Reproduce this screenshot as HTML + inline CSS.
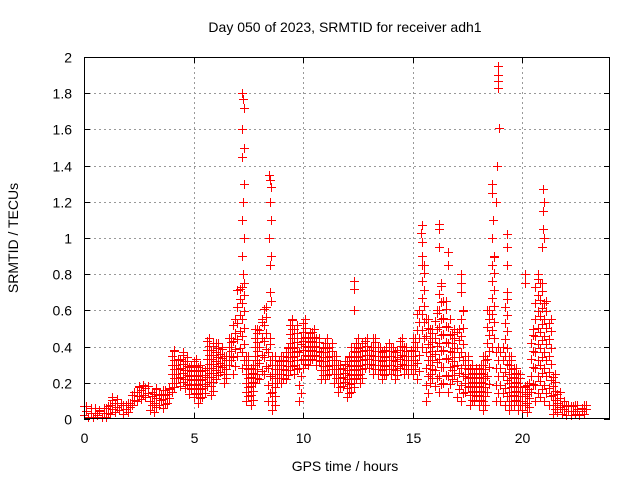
<!DOCTYPE html>
<html><head><meta charset="utf-8"><style>
body{margin:0;background:#fff}
svg{display:block;font-family:"Liberation Sans",sans-serif}
</style></head><body>
<svg id="chart" width="640" height="480" viewBox="0 0 640 480" xmlns="http://www.w3.org/2000/svg">
<text x="345" y="32" font-size="14" text-anchor="middle">Day 050 of 2023, SRMTID for receiver adh1</text>
<text transform="translate(18,238) rotate(-90)" font-size="14" text-anchor="middle">SRMTID / TECUs</text>
<text x="345" y="471" font-size="14" text-anchor="middle">GPS time / hours</text>
<g id="grid"></g><g id="marks"></g>
<rect x="84.5" y="57.5" width="525" height="361" fill="none" stroke="#000" stroke-width="1"/>
<g id="ticks"></g>
</svg>
<script>
const xTicks=[0,5,10,15,20];
const yTicks=[0,0.2,0.4,0.6,0.8,1,1.2,1.4,1.6,1.8,2];
const binStart=0, binWidth=0.2;
const lo=[0.02,0.01,0.01,0.02,0.01, 0.01,0.03,0.04,0.05,0.03, 0.04,0.08,0.10,0.11,0.12, 0.05,0.04,0.08,0.06,0.09,
0.15,0.20,0.18,0.17,0.14, 0.12,0.09,0.12,0.18,0.13, 0.22,0.26,0.20,0.30,0.25, 0.35,0.28,0.10,0.08,0.20,
0.22,0.25,0.10,0.05,0.20, 0.20,0.22,0.27,0.25,0.10, 0.28,0.30,0.33,0.30,0.22, 0.22,0.25,0.20,0.15,0.18,
0.12,0.15,0.22,0.20,0.28, 0.28,0.25,0.25,0.22,0.25, 0.25,0.22,0.28,0.25,0.25, 0.25,0.22,0.40,0.10,0.20,
0.18,0.15,0.20,0.15,0.22, 0.12,0.10,0.15,0.08,0.10, 0.08,0.05,0.15,0.40,0.10, 0.10,0.08,0.05,0.08,0.05,
0.05,0.04,0.15,0.10,0.12, 0.10,0.08,0.03,0.04,0.03, 0.02,0.02,0.03,0.02,0.03];
const hi=[0.07,0.06,0.06,0.05,0.06, 0.07,0.12,0.11,0.09,0.08, 0.09,0.15,0.18,0.19,0.18, 0.15,0.17,0.14,0.16,0.17,
0.38,0.33,0.37,0.34,0.30, 0.33,0.30,0.27,0.45,0.42, 0.42,0.40,0.35,0.45,0.55, 0.72,0.75,0.35,0.30,0.50,
0.55,0.62,0.45,0.35,0.32, 0.35,0.40,0.55,0.52,0.45, 0.55,0.48,0.50,0.45,0.40, 0.45,0.42,0.35,0.30,0.32,
0.35,0.40,0.45,0.42,0.45, 0.40,0.45,0.40,0.38,0.42, 0.40,0.38,0.45,0.40,0.38, 0.45,0.60,0.85,0.55,0.50,
0.60,0.75,0.65,0.55,0.50, 0.50,0.60,0.35,0.30,0.28, 0.30,0.35,0.60,0.90,0.40, 0.40,0.70,0.35,0.28,0.25,
0.18,0.20,0.50,0.80,0.75, 0.65,0.55,0.25,0.15,0.10, 0.08,0.07,0.08,0.06,0.08];
const spikeT=[7.2,7.25,7.3,7.22,7.28,7.2,7.3,7.25,7.2,7.3,7.22,7.27,
8.45,8.5,8.55,8.48,8.52,8.45,8.55,8.5,8.47,8.53,
12.3,12.3,12.3, 15.4,15.38,15.42,15.4, 16.2,16.22,16.18, 16.6,16.62, 17.2,17.22,17.2,
18.6,18.62,18.65,18.6, 18.9,18.9,18.88,18.9,18.92,18.85,18.82, 19.3,19.28,19.3, 20.1,20.12,
20.95,20.97,20.93,20.95,21.0,20.92];
const spikeV=[1.8,1.77,1.72,1.6,1.5,1.45,1.3,1.2,1.1,1.0,0.9,0.8,
1.35,1.32,1.28,1.2,1.1,1.0,0.9,0.85,0.7,0.65,
0.76,0.72,0.6, 1.07,1.03,0.98,0.9, 1.08,1.05,0.95, 0.92,0.85, 0.8,0.75,0.7,
1.3,1.25,1.1,1.0, 1.95,1.9,1.87,1.83,1.61,1.4,1.2, 1.02,0.95,0.85, 0.8,0.75,
1.27,1.2,1.15,1.05,1.0,0.95];
const X0=84,X1=610,Y0=419,Y1=57,XMAX=24,YMAX=2;
const xs=t=>X0+(X1-X0)*t/XMAX, ys=v=>Y0-(Y0-Y1)*v/YMAX;
const NS="http://www.w3.org/2000/svg";
const grid=document.getElementById('grid'),marks=document.getElementById('marks'),ticks=document.getElementById('ticks');
function el(tag,attrs,parent){const e=document.createElementNS(NS,tag);for(const k in attrs)e.setAttribute(k,attrs[k]);parent.appendChild(e);return e;}
const px=v=>Math.round(v)+0.5;
xTicks.forEach(t=>{const x=px(xs(t));
 if(t>0){const g=el('line',{x1:x,x2:x,y1:Y0,y2:Y1,stroke:'#999','stroke-dasharray':'2,3'},grid);
 
 }
 const a=el('line',{x1:x,x2:x,y1:Y0,y2:Y0-6,stroke:'#000'},ticks);
 
 
 const b=el('line',{x1:x,x2:x,y1:Y1,y2:Y1+6,stroke:'#000'},ticks);
 
 
 const l=el('text',{x:x,y:443,'font-size':14,'text-anchor':'middle'},ticks);l.textContent=t;
 
 });
yTicks.forEach(v=>{const y=px(ys(v));
 if(v>0&&v<2){const g=el('line',{x1:X0,x2:X1,y1:y,y2:y,stroke:'#999','stroke-dasharray':'2,3'},grid);
 
 }
 const a=el('line',{x1:X0,x2:X0+6,y1:y,y2:y,stroke:'#000'},ticks);
 
 
 const b=el('line',{x1:X1,x2:X1-6,y1:y,y2:y,stroke:'#000'},ticks);
 
 
 const l=el('text',{x:72,y:y+5,'font-size':14,'text-anchor':'end'},ticks);l.textContent=v;
 
 });
let d='';
function plus(t,v){const x=Math.round(xs(t)),y=Math.round(ys(v));
 d+=`M${x-4} ${y}h9v1h-9zM${x} ${y-4}h1v9h-1z`;}
lo.forEach((l,i)=>{const h=hi[i];const t=binStart+i*binWidth;
 for(let s=0;s<2;s++){const tt=t+s*binWidth/2;
  const step=(h-l)>0.3?0.09:0.05;
  for(let v=l+(s*step/2);v<=h;v+=step)plus(tt,v);
  plus(tt,s?h:l);}
});
spikeT.forEach((t,i)=>plus(t,spikeV[i]));
const p=el('path',{d:d,fill:'#f00','fill-rule':'nonzero',stroke:'none'},marks);


</script>
</body></html>
